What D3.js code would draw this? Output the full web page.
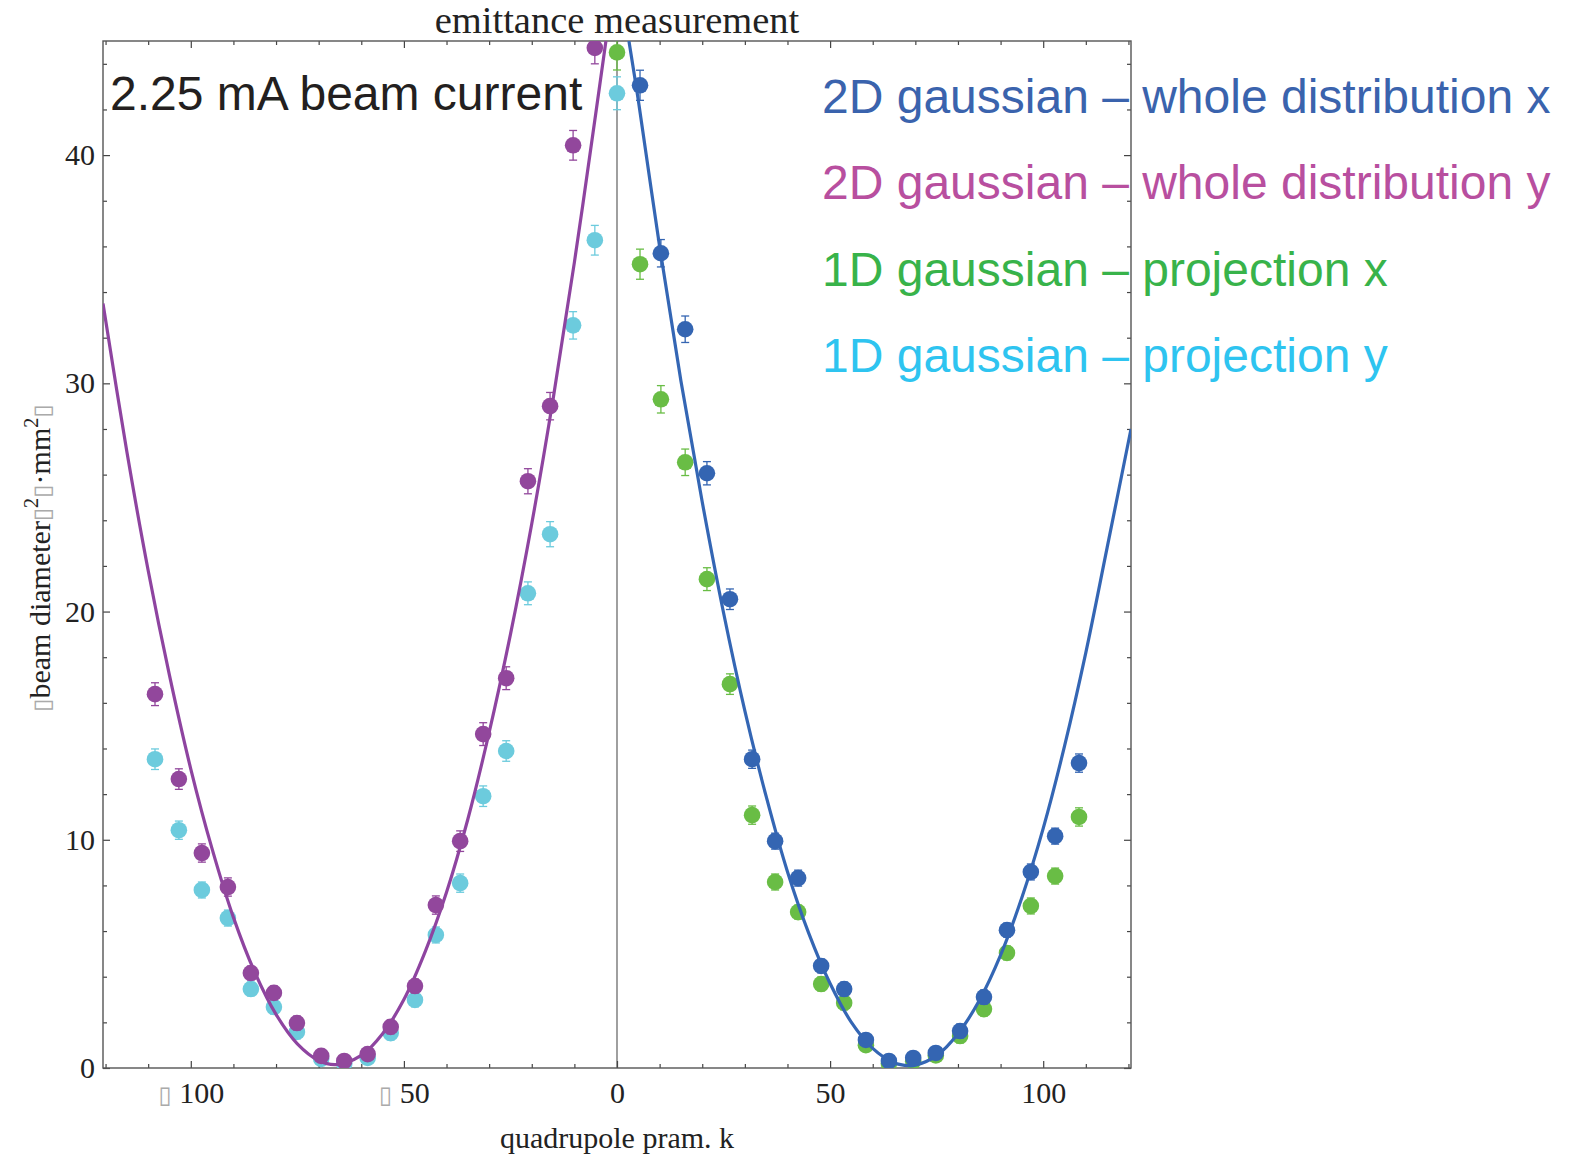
<!DOCTYPE html>
<html>
<head>
<meta charset="utf-8">
<script src="https://cdn.jsdelivr.net/npm/d3@7"></script>
<style>
body { margin: 0; background: #fff; }
</style>
</head>
<body>
<svg id="chart"></svg>
<script>
// measured k values (negative scan / positive scan)
const kNeg = [-108.4, -102.8, -97.4, -91.3, -85.9, -80.5, -75.1, -69.4, -64.0, -58.5,
              -53.1, -47.4, -42.5, -36.8, -31.4, -26.0, -20.9, -15.7, -10.3, -5.2, 0];
const kPos = [0, 5.4, 10.3, 16.0, 21.1, 26.5, 31.7, 37.1, 42.5, 47.9, 53.3,
              58.4, 63.8, 69.5, 74.8, 80.5, 86.1, 91.5, 97.1, 102.8, 108.4];

// 2D gaussian y (purple), on kNeg[0..19]
const y2d = [16.38, 12.66, 9.42, 7.93, 4.16, 3.29, 1.97, 0.53, 0.31, 0.61,
             1.80, 3.59, 7.14, 9.94, 14.63, 17.08, 25.71, 29.0, 40.43, 44.7];
const y2dErr = [0.5, 0.45, 0.4, 0.4, 0.3, 0.3, 0.3, 0.2, 0.2, 0.2,
                0.3, 0.3, 0.4, 0.45, 0.5, 0.5, 0.55, 0.6, 0.65, 0.7];
// 1D gaussian y (cyan), on kNeg
const y1d = [13.53, 10.42, 7.80, 6.57, 3.46, 2.67, 1.58, 0.4, 0.2, 0.44,
             1.53, 2.98, 5.83, 8.10, 11.91, 13.89, 20.8, 23.39, 32.54, 36.27, 42.71];
const y1dErr = [0.45, 0.4, 0.35, 0.35, 0.3, 0.3, 0.3, 0.2, 0.2, 0.2,
                0.3, 0.3, 0.35, 0.4, 0.45, 0.45, 0.5, 0.55, 0.6, 0.65, 0.72];
// 2D gaussian x (blue), on kPos[1..20]
const x2d = [43.06, 35.70, 32.37, 26.06, 20.54, 13.53, 9.94, 8.32, 4.47, 3.46,
             1.23, 0.31, 0.44, 0.66, 1.62, 3.11, 6.04, 8.59, 10.16, 13.36];
const x2dErr = [0.66, 0.6, 0.58, 0.51, 0.45, 0.4, 0.35, 0.35, 0.3, 0.3,
                0.2, 0.2, 0.2, 0.2, 0.3, 0.3, 0.3, 0.35, 0.35, 0.4];
// 1D gaussian x (green), on kPos
const x1d = [44.5, 35.22, 29.30, 26.54, 21.42, 16.82, 11.08, 8.15, 6.83, 3.68, 2.85,
             1.0, 0.2, 0.3, 0.55, 1.4, 2.58, 5.04, 7.10, 8.41, 11.0];
const x1dErr = [0.77, 0.66, 0.6, 0.58, 0.5, 0.45, 0.4, 0.35, 0.3, 0.3, 0.3,
                0.2, 0.2, 0.2, 0.2, 0.3, 0.3, 0.3, 0.35, 0.35, 0.4];

// fit curves
const fitYk = [-120.6, -115, -110, -105, -100, -95, -90, -85, -80, -75, -70, -66,
               -60, -55, -50, -45, -40, -35, -30, -25, -20, -15, -10, -5, -2.6];
const fitYv = [33.5, 27.0, 21.8, 17.2, 13.1, 9.6, 6.6, 4.2, 2.35, 1.06, 0.33, 0.15,
               0.55, 1.5, 3.0, 5.1, 7.7, 10.9, 14.7, 19.0, 23.85, 29.3, 35.3, 41.8, 45.0];
const fitXk = [2.8, 5, 10, 15, 20, 25, 30, 35, 40, 45, 50, 55, 60, 65, 68.5,
               70, 75, 80, 85, 90, 95, 100, 105, 110, 115, 120.6];
const fitXv = [45.0, 42.4, 36.0, 30.1, 24.8, 19.95, 15.65, 11.9, 8.6, 5.9, 3.7, 2.0, 0.86, 0.23, 0.1,
               0.12, 0.54, 1.5, 2.96, 4.95, 7.47, 10.5, 14.1, 18.2, 22.8, 28.0];

const legendLabels = ["2D gaussian \u2013 whole distribution x", "2D gaussian \u2013 whole distribution y",
                      "1D gaussian \u2013 projection x", "1D gaussian \u2013 projection y"];
const xMajor = [-100, -50, 0, 50, 100];
const yMajor = [0, 10, 20, 30, 40];

const W = 1569, H = 1159;
const margin = { left: 103, right: 1131, top: 41, bottom: 1068 };
const cBlue = "#3465b2", cPurple = "#92479c", cGreen = "#69bd45", cCyan = "#6ccbdd";
const serif = "'Liberation Serif', 'Times New Roman', serif";
const sans = "'Liberation Sans', Arial, sans-serif";

const svg = d3.select("#chart").attr("width", W).attr("height", H);

const x = d3.scaleLinear().domain([-120.6, 120.6]).range([margin.left, margin.right]);
const y = d3.scaleLinear().domain([0, 45]).range([margin.bottom, margin.top]);

svg.append("defs").append("clipPath").attr("id", "plotclip")
    .append("rect").attr("x", margin.left).attr("y", margin.top)
    .attr("width", margin.right - margin.left).attr("height", margin.bottom - margin.top);

// zero line
svg.append("line")
    .attr("x1", x(0)).attr("x2", x(0)).attr("y1", margin.top).attr("y2", margin.bottom)
    .attr("stroke", "#888").attr("stroke-width", 1.6);

// axes (ticks inward)
function styleAxis(g) {
    g.select(".domain").remove();
    g.selectAll(".tick line").attr("stroke", "#444").attr("stroke-width", 1.2);
    g.selectAll("text").attr("font-family", serif).attr("font-size", 30).attr("fill", "#222");
}
const xMinor = d3.range(-120, 121, 10).filter(d => !xMajor.includes(d));
const yMinor = d3.range(0, 45, 2).filter(d => !yMajor.includes(d));

let gx = svg.append("g").attr("transform", `translate(0,${margin.bottom})`)
    .call(d3.axisBottom(x).tickValues(xMajor).tickSize(-7).tickPadding(14).tickFormat(d => Math.abs(d)))
    .call(styleAxis);
gx.selectAll(".tick text").each(function(d) {
    if (d < 0) {
        let t = d3.select(this).text("");
        t.append("tspan").attr("font-family", "'DejaVu Sans'").attr("font-size", 24)
            .attr("fill", "#aaa").text("\u25AF");
        t.append("tspan").text(" " + Math.abs(d));
    }
});
svg.append("g").attr("transform", `translate(0,${margin.bottom})`)
    .call(d3.axisBottom(x).tickValues(xMinor).tickSize(-4).tickFormat(""))
    .call(styleAxis);
svg.append("g").attr("transform", `translate(0,${margin.top})`)
    .call(d3.axisTop(x).tickValues(xMajor).tickSize(-7).tickFormat(""))
    .call(styleAxis);
svg.append("g").attr("transform", `translate(0,${margin.top})`)
    .call(d3.axisTop(x).tickValues(xMinor).tickSize(-4).tickFormat(""))
    .call(styleAxis);

svg.append("g").attr("transform", `translate(${margin.left},0)`)
    .call(d3.axisLeft(y).tickValues(yMajor).tickSize(-7).tickPadding(8))
    .call(styleAxis);
svg.append("g").attr("transform", `translate(${margin.left},0)`)
    .call(d3.axisLeft(y).tickValues(yMinor).tickSize(-4).tickFormat(""))
    .call(styleAxis);
svg.append("g").attr("transform", `translate(${margin.right},0)`)
    .call(d3.axisRight(y).tickValues(yMajor).tickSize(-7).tickFormat(""))
    .call(styleAxis);
svg.append("g").attr("transform", `translate(${margin.right},0)`)
    .call(d3.axisRight(y).tickValues(yMinor).tickSize(-4).tickFormat(""))
    .call(styleAxis);

// frame
svg.append("rect")
    .attr("x", margin.left).attr("y", margin.top)
    .attr("width", margin.right - margin.left).attr("height", margin.bottom - margin.top)
    .attr("fill", "none").attr("stroke", "#555").attr("stroke-width", 1.4);

const plot = svg.append("g").attr("clip-path", "url(#plotclip)");

function drawPoints(ks, vals, errs, color) {
    let pts = vals.map((v, i) => ({ k: ks[i], v: v, e: errs[i] }));
    let g = plot.append("g");
    let eb = g.selectAll(".eb").data(pts).enter().append("g")
        .attr("stroke", color).attr("stroke-width", 1.3);
    eb.append("line")
        .attr("x1", d => x(d.k)).attr("x2", d => x(d.k))
        .attr("y1", d => y(d.v - d.e)).attr("y2", d => y(d.v + d.e));
    eb.append("line")
        .attr("x1", d => x(d.k) - 4).attr("x2", d => x(d.k) + 4)
        .attr("y1", d => y(d.v + d.e)).attr("y2", d => y(d.v + d.e));
    eb.append("line")
        .attr("x1", d => x(d.k) - 4).attr("x2", d => x(d.k) + 4)
        .attr("y1", d => y(d.v - d.e)).attr("y2", d => y(d.v - d.e));
    g.selectAll("circle").data(pts).enter().append("circle")
        .attr("cx", d => x(d.k)).attr("cy", d => y(d.v))
        .attr("r", 8.3).attr("fill", color);
}

function drawFit(ks, vals, color) {
    let line = d3.line().x(d => x(d[0])).y(d => y(d[1])).curve(d3.curveCatmullRom);
    plot.append("path")
        .datum(ks.map((k, i) => [k, vals[i]]))
        .attr("d", line)
        .attr("fill", "none").attr("stroke", color).attr("stroke-width", 3.2);
}

drawPoints(kNeg, y1d, y1dErr, cCyan);
drawPoints(kPos, x1d, x1dErr, cGreen);
drawFit(fitYk, fitYv, "#8e44a0");
drawFit(fitXk, fitXv, "#3466b4");
drawPoints(kNeg.slice(0, 20), y2d, y2dErr, cPurple);
drawPoints(kPos.slice(1), x2d, x2dErr, cBlue);

// title and axis labels
svg.append("text").attr("x", x(0)).attr("y", 33).attr("text-anchor", "middle")
    .attr("font-family", serif).attr("font-size", 38.5).attr("fill", "#222")
    .text("emittance measurement");

svg.append("text").attr("x", x(0)).attr("y", 1148).attr("text-anchor", "middle")
    .attr("font-family", serif).attr("font-size", 30).attr("fill", "#222")
    .text("quadrupole pram. k");

let yl = svg.append("text")
    .attr("transform", "translate(50,558) rotate(-90)")
    .attr("text-anchor", "middle")
    .attr("font-family", serif).attr("font-size", 30).attr("fill", "#222");
const box = () => yl.append("tspan").attr("font-family", "'DejaVu Sans'").attr("font-size", 24).attr("fill", "#aaa").text("\u25AF");
box();
yl.append("tspan").text("beam diameter");
box();
yl.append("tspan").attr("dy", -12).attr("font-size", 20).text("2");
yl.append("tspan").attr("dy", 12).attr("font-size", 1).text(" ");
box();
yl.append("tspan").text("\u00B7mm");
yl.append("tspan").attr("dy", -12).attr("font-size", 20).text("2");
yl.append("tspan").attr("dy", 12).attr("font-size", 1).text(" ");
box();

// annotation and legend
svg.append("text").attr("x", 110).attr("y", 110)
    .attr("font-family", sans).attr("font-size", 48).attr("fill", "#231f20")
    .text("2.25 mA beam current");

const legendColors = ["#3a63ad", "#b84f9f", "#38b34a", "#2ec4f0"];
svg.selectAll(".legend").data(legendLabels).enter().append("text")
    .attr("x", 822).attr("y", (d, i) => 112.5 + i * 86.5)
    .attr("font-family", sans).attr("font-size", 48)
    .attr("fill", (d, i) => legendColors[i])
    .text(d => d);
</script>
</body>
</html>
